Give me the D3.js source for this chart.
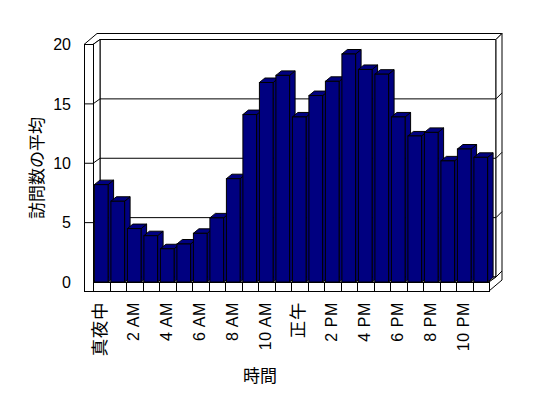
<!DOCTYPE html>
<html>
<head>
<meta charset="utf-8">
<script src="https://d3js.org/d3.v7.min.js"></script>
<style>
  body { margin: 0; background: #fff; }
  svg { display: block; }
  text { font-family: "Liberation Sans", Arial, "Noto Sans CJK JP", sans-serif; fill: #000; }
  .cjk { font-family: "Noto Sans CJK JP", sans-serif; }
</style>
</head>
<body>
<svg width="548" height="398"></svg>
<script>
// hours of the day (category axis)
const hours = ['真夜中', '1 AM', '2 AM', '3 AM', '4 AM', '5 AM', '6 AM', '7 AM',
  '8 AM', '9 AM', '10 AM', '11 AM', '正午', '1 PM', '2 PM', '3 PM', '4 PM',
  '5 PM', '6 PM', '7 PM', '8 PM', '9 PM', '10 PM', '11 PM'];
// average number of visits per hour
const visits = [8.2, 6.8, 4.5, 3.9, 2.8, 3.2, 4.1, 5.4, 8.7, 14.1, 16.8, 17.4,
  13.9, 15.7, 16.9, 19.2, 17.9, 17.5, 13.9, 12.3, 12.6, 10.2, 11.2, 10.5];
const yTicks = [0, 5, 10, 15, 20];
const yTitle = '訪問数の平均';
const xTitle = '時間';

function drawChart() {
  const svg = d3.select('svg');

  const frontX0 = 93;
  const frontX1 = 489;
  const depth = [7, -5];      // front plane -> back wall
  const wallT = [6, -6];      // back wall thickness
  const leftT = 9;            // left wall thickness
  const floorT = 9;           // floor thickness
  const barDepth = [5.5, -4.5];
  const barFill = '#000080';

  const xScale = d3.scaleBand()
      .domain(hours)
      .range([frontX0, frontX1])
      .paddingInner(0.17)
      .paddingOuter(0.085);
  const yScale = d3.scaleLinear()
      .domain([0, 20])
      .range([282, 44.5]);

  const y0 = yScale(0);
  const yTop = yScale(20);
  const g = svg.append('g')
      .attr('fill', 'none')
      .attr('stroke', '#000')
      .attr('stroke-width', 1);

  const poly = pts => 'M' + pts.map(p => p.join(',')).join('L') + 'Z';
  const bx0 = frontX0 + depth[0];
  const bx1 = frontX1 + depth[0];

  // back wall face
  g.append('rect')
      .attr('x', bx0).attr('y', yTop + depth[1])
      .attr('width', bx1 - bx0).attr('height', y0 - yTop)
      .attr('fill', '#fff');
  // top of walls
  g.append('path')
      .attr('fill', '#fff')
      .attr('d', poly([
        [frontX0 - leftT, yTop], [frontX0, yTop], [bx0, yTop + depth[1]],
        [bx1, yTop + depth[1]], [bx1 + wallT[0], yTop + depth[1] + wallT[1]],
        [frontX0 - leftT + depth[0] + wallT[0], yTop + depth[1] + wallT[1]]
      ]));
  // right side of back wall
  g.append('path')
      .attr('fill', '#fff')
      .attr('d', poly([
        [bx1, yTop + depth[1]], [bx1 + wallT[0], yTop + depth[1] + wallT[1]],
        [bx1 + wallT[0], y0 + depth[1] + wallT[1]], [bx1, y0 + depth[1]]
      ]));
  // left wall inner face
  g.append('path')
      .attr('fill', '#fff')
      .attr('d', poly([
        [frontX0, y0], [frontX0, yTop], [bx0, yTop + depth[1]], [bx0, y0 + depth[1]]
      ]));
  // left wall front edge
  g.append('rect')
      .attr('x', frontX0 - leftT).attr('y', yTop)
      .attr('width', leftT).attr('height', y0 + floorT - yTop)
      .attr('fill', '#fff')
      .attr('shape-rendering', 'crispEdges');
  // floor top and right side
  g.append('path')
      .attr('fill', '#fff')
      .attr('d', poly([
        [frontX0, y0], [frontX1, y0], [bx1, y0 + depth[1]], [bx0, y0 + depth[1]]
      ]));
  g.append('path')
      .attr('fill', '#fff')
      .attr('d', poly([
        [frontX1, y0], [frontX1, y0 + floorT],
        [bx1 + wallT[0], y0 + floorT + depth[1] + wallT[1]],
        [bx1 + wallT[0], y0 + depth[1] + wallT[1]], [bx1, y0 + depth[1]]
      ]));
  // floor front edge
  g.append('rect')
      .attr('x', frontX0).attr('y', y0)
      .attr('width', frontX1 - frontX0).attr('height', floorT)
      .attr('fill', '#fff')
      .attr('shape-rendering', 'crispEdges');
  g.selectAll('.cat-tick')
      .data(hours.slice(1))
      .join('line')
      .attr('class', 'cat-tick')
      .attr('shape-rendering', 'crispEdges')
      .attr('x1', d => Math.round(xScale(d) - xScale.step() * xScale.paddingInner() / 2) + 0.5)
      .attr('x2', d => Math.round(xScale(d) - xScale.step() * xScale.paddingInner() / 2) + 0.5)
      .attr('y1', y0).attr('y2', y0 + floorT);

  // value ticks and gridlines
  const grid = yTicks.filter(v => v > 0 && v < 20);
  grid.forEach(v => {
    const yf = yScale(v);
    const yb = yf + depth[1];
    g.append('line')
        .attr('x1', frontX0 - leftT).attr('x2', frontX0)
        .attr('y1', yf).attr('y2', yf);
    g.append('path')
        .attr('d', `M${frontX0},${yf}L${bx0},${yb}L${bx1},${yb}L${bx1 + wallT[0]},${yb + wallT[1]}`);
  });

  // bars, left to right
  const bw = xScale.bandwidth();
  hours.forEach((h, i) => {
    const x = xScale(h);
    const yv = yScale(visits[i]);
    const bar = g.append('g')
        .attr('fill', barFill)
        .attr('stroke', '#000');
    bar.append('path')
        .attr('d', poly([
          [x + bw, yv], [x + bw + barDepth[0], yv + barDepth[1]],
          [x + bw + barDepth[0], y0 + barDepth[1]], [x + bw, y0]
        ]));
    bar.append('path')
        .attr('d', poly([
          [x, yv], [x + bw, yv], [x + bw + barDepth[0], yv + barDepth[1]],
          [x + barDepth[0], yv + barDepth[1]]
        ]));
    bar.append('rect')
        .attr('x', x).attr('y', yv)
        .attr('width', bw).attr('height', y0 - yv);
  });

  // value axis labels
  const yAxis = d3.axisLeft(yScale)
      .tickValues(yTicks)
      .tickSize(0)
      .tickPadding(0)
      .tickFormat(d3.format('d'));
  const yAxisG = svg.append('g')
      .attr('transform', 'translate(71, 0)')
      .call(yAxis);
  yAxisG.select('.domain').remove();
  yAxisG.selectAll('text')
      .attr('font-size', 16)
      .attr('font-family', '"Liberation Sans", Arial, sans-serif');

  // category axis labels (every other hour)
  const xAxis = d3.axisBottom(xScale)
      .tickValues(hours.filter((d, i) => i % 2 === 0))
      .tickSize(0)
      .tickPadding(0);
  const xAxisG = svg.append('g')
      .attr('transform', 'translate(-1, 302)')
      .call(xAxis);
  xAxisG.select('.domain').remove();
  xAxisG.selectAll('text')
      .attr('font-size', d => /AM|PM/.test(d) ? 16 : 17.5)
      .attr('font-family', '"Liberation Sans", Arial, "Noto Sans CJK JP", sans-serif')
      .attr('letter-spacing', 0.6)
      .attr('text-anchor', 'end')
      .attr('fill', '#000')
      .attr('dy', '0.35em')
      .attr('y', 0)
      .attr('transform', 'rotate(-90)');

  // axis titles
  svg.append('text')
      .attr('class', 'cjk')
      .attr('font-size', 17)
      .attr('text-anchor', 'middle')
      .attr('transform', 'translate(37, 168) rotate(-90)')
      .attr('dy', '0.35em')
      .text(yTitle);
  svg.append('text')
      .attr('class', 'cjk')
      .attr('font-size', 17)
      .attr('text-anchor', 'middle')
      .attr('x', 260).attr('y', 376)
      .attr('dy', '0.35em')
      .text(xTitle);
}

drawChart();
</script>
</body>
</html>
